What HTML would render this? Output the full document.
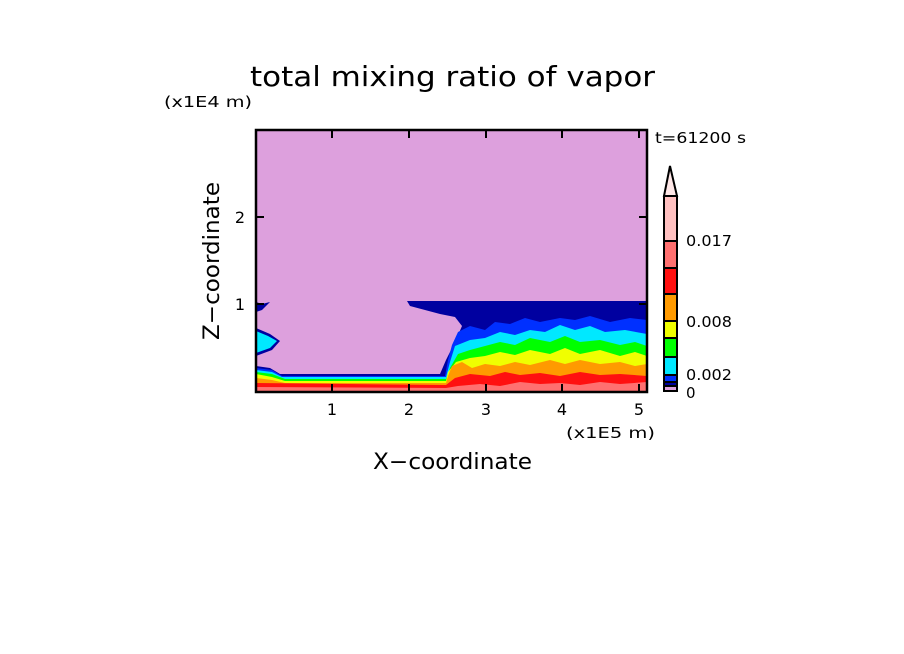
<!DOCTYPE html>
<html><head><meta charset="utf-8"><style>
body{margin:0;background:#fff;}
svg{display:block;font-family:"DejaVu Sans","Liberation Sans",sans-serif;}
</style></head><body>
<svg width="904" height="654" viewBox="0 0 904 654" xmlns="http://www.w3.org/2000/svg">
<rect width="904" height="654" fill="#fff"/>
<text x="250" y="86" font-size="28" textLength="405" lengthAdjust="spacingAndGlyphs" fill="#000">total mixing ratio of vapor</text>
<text x="164" y="107" font-size="15" textLength="88" lengthAdjust="spacingAndGlyphs" fill="#000">(x1E4 m)</text>
<text x="655" y="143" font-size="15" textLength="91" lengthAdjust="spacingAndGlyphs" fill="#000">t=61200 s</text>
<clipPath id="c"><rect x="256" y="130" width="391" height="262"/></clipPath>
<g clip-path="url(#c)">
<rect x="256" y="130" width="391" height="262" fill="#dda0dd"/>
<path d="M256,302 L262,304 L270,302 L262,310 L256,312Z" fill="#0000a0"/>
<path d="M256,328 L270,334 L280,341 L272,350 L256,356Z" fill="#0000a0"/>
<path d="M256,331 L268,336 L277,341 L270,348 L256,353Z" fill="#00e8ff"/>
<path d="M407,301 L647,301 L647,392 L256,392 L256,366 L270,368 L280,374 L440,374 L446,360 L455,342 L462,326 L455,317 L440,314 L425,310 L410,306Z" fill="#0000a0"/>
<path d="M458,332 L470,326 L485,330 L495,322 L510,324 L525,318 L540,322 L560,318 L575,320 L590,316 L610,322 L630,318 L647,320 L647,392 L256,392 L256,368 L272,370 L282,376 L445,376 L448,360 L452,345Z" fill="#0030ff"/>
<path d="M455,346 L470,340 L485,338 L500,332 L515,335 L530,330 L545,332 L560,325 L575,330 L590,326 L605,332 L625,330 L647,334 L647,392 L256,392 L256,370 L272,372 L282,377 L446,377 L450,362Z" fill="#00e8ff"/>
<path d="M458,354 L470,350 L485,346 L500,342 L515,345 L530,338 L550,342 L565,336 L580,342 L600,340 L620,345 L635,342 L647,346 L647,392 L256,392 L256,372 L272,374 L285,379 L446,379 L450,368Z" fill="#00ff00"/>
<path d="M456,362 L470,358 L485,356 L500,352 L515,355 L530,350 L550,354 L565,348 L580,354 L600,350 L620,356 L635,352 L647,356 L647,392 L256,392 L256,374 L272,377 L285,381 L446,381 L448,372Z" fill="#f0ff00"/>
<path d="M452,366 L462,362 L472,368 L485,364 L500,366 L515,362 L530,365 L550,360 L565,364 L580,360 L600,364 L620,362 L635,366 L647,364 L647,392 L256,392 L256,378 L272,380 L285,383 L446,383 L448,376Z" fill="#ff9a00"/>
<path d="M455,378 L470,374 L490,376 L505,372 L520,375 L540,373 L560,376 L580,372 L600,375 L620,374 L647,376 L647,392 L256,392 L256,383 L446,385Z" fill="#ff1010"/>
<path d="M458,386 L480,384 L500,386 L520,382 L540,384 L560,383 L580,385 L600,382 L620,384 L647,382 L647,392 L256,392 L256,387 L446,388Z" fill="#ff7070"/>
</g>
<rect x="256" y="130" width="391" height="262" fill="none" stroke="#000" stroke-width="2.5"/>
<g stroke="#000" stroke-width="2">
<line x1="332" y1="392" x2="332" y2="384"/><line x1="409" y1="392" x2="409" y2="384"/><line x1="486" y1="392" x2="486" y2="384"/><line x1="562" y1="392" x2="562" y2="384"/><line x1="639" y1="392" x2="639" y2="384"/>
<line x1="332" y1="130" x2="332" y2="138"/><line x1="409" y1="130" x2="409" y2="138"/><line x1="486" y1="130" x2="486" y2="138"/><line x1="562" y1="130" x2="562" y2="138"/><line x1="639" y1="130" x2="639" y2="138"/>
<line x1="256" y1="304" x2="264" y2="304"/><line x1="256" y1="217" x2="264" y2="217"/>
<line x1="647" y1="304" x2="639" y2="304"/><line x1="647" y1="217" x2="639" y2="217"/>
</g>
<g font-size="16" fill="#000" text-anchor="middle">
<text x="332" y="415">1</text><text x="409" y="415">2</text><text x="486" y="415">3</text><text x="562" y="415">4</text><text x="639" y="415">5</text>
<text x="240" y="310">1</text><text x="240" y="223">2</text>
</g>
<text x="566" y="438" font-size="15" textLength="89" lengthAdjust="spacingAndGlyphs">(x1E5 m)</text>
<text x="373" y="469" font-size="22" textLength="159" lengthAdjust="spacingAndGlyphs">X−coordinate</text>
<text transform="translate(219,340) rotate(-90)" font-size="22" textLength="158" lengthAdjust="spacingAndGlyphs">Z−coordinate</text>
<g stroke="#000" stroke-width="2">
<path d="M664,196 L670,166 L677,196Z" fill="#ffe8e8"/>
<rect x="664" y="196" width="13" height="45" fill="#ffc0c0"/>
<rect x="664" y="241" width="13" height="27" fill="#ff7070"/>
<rect x="664" y="268" width="13" height="26" fill="#ff1010"/>
<rect x="664" y="294" width="13" height="27" fill="#ff9a00"/>
<rect x="664" y="321" width="13" height="17" fill="#f0ff00"/>
<rect x="664" y="338" width="13" height="19" fill="#00ff00"/>
<rect x="664" y="357" width="13" height="18" fill="#00e8ff"/>
<rect x="664" y="375" width="13" height="7" fill="#0030ff"/>
<rect x="664" y="382" width="13" height="4" fill="#0000a0"/>
<rect x="664" y="386" width="13" height="5" fill="#dda0dd"/>
</g>
<g font-size="15" fill="#000">
<text x="686" y="246" textLength="46" lengthAdjust="spacingAndGlyphs">0.017</text>
<text x="686" y="327" textLength="46" lengthAdjust="spacingAndGlyphs">0.008</text>
<text x="686" y="380" textLength="46" lengthAdjust="spacingAndGlyphs">0.002</text>
<text x="686" y="398">0</text>
</g>
</svg>
</body></html>
